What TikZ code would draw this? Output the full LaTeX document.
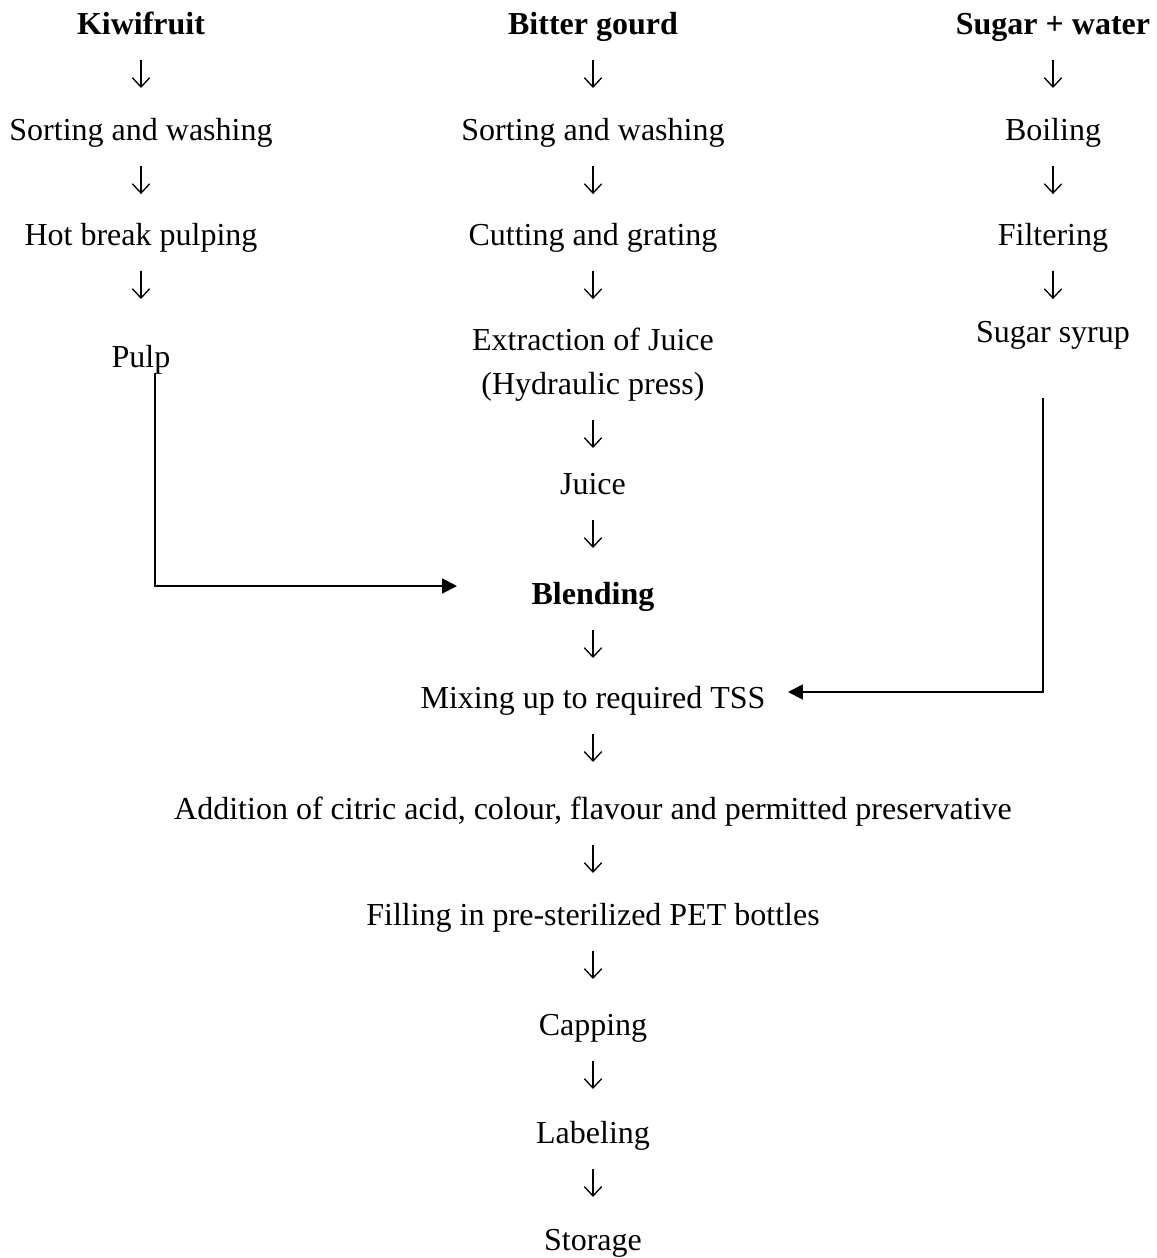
\documentclass[tikz,border=0pt]{standalone}
\usepackage{fontspec}
\setmainfont{Liberation Serif}
\usetikzlibrary{arrows.meta}
\tikzset{
    stage/.style={inner sep=0pt, anchor=base},
    flow/.style={-{Straight Barb[length=3.5pt,width=6.5pt]}, line width=0.5pt, shorten <=9.75pt, shorten >=#1},
    flow/.default=19.5pt,
    feed/.style={-{Triangle[length=5.6pt,width=5.6pt]}, line width=0.75pt}
}
\begin{document}
\begin{tikzpicture}[x=0.375pt, y=-0.375pt, font=\fontsize{12}{14}\selectfont]
    \useasboundingbox (0,0) rectangle (1157,1258);
    % Columna del kiwi
    \node[stage] (kiwi) at (141,34) {\textbf{Kiwifruit}};
    \node[stage] (ksort) at (141,140) {Sorting and washing};
    \node[stage] (hot) at (141,245) {Hot break pulping};
    \node[stage] (pulp) at (141,367) {Pulp};
    % Columna del melón amargo
    \node[stage] (gourd) at (593,34) {\textbf{Bitter gourd}};
    \node[stage] (gsort) at (593,140) {Sorting and washing};
    \node[stage] (cut) at (593,245) {Cutting and grating};
    \node[stage] (extract) at (593,350) {Extraction of Juice};
    \node[stage] (press) at (593,394) {(Hydraulic press)};
    \node[stage] (juice) at (593,494) {Juice};
    \node[stage] (blend) at (593,604) {\textbf{Blending}};
    \node[stage] (mix) at (593,708) {Mixing up to required TSS};
    \node[stage] (additives) at (593,819) {Addition of citric acid, colour, flavour and permitted preservative};
    \node[stage] (fill) at (593,925) {Filling in pre-sterilized PET bottles};
    \node[stage] (cap) at (593,1035) {Capping};
    \node[stage] (label) at (593,1143) {Labeling};
    \node[stage] (store) at (593,1250) {Storage};
    % Columna del jarabe
    \node[stage] (sugar) at (1053,34) {\textbf{Sugar + water}};
    \node[stage] (boil) at (1053,140) {Boiling};
    \node[stage] (filter) at (1053,245) {Filtering};
    \node[stage] (syrup) at (1053,342) {Sugar syrup};
    % Flechas hacia abajo
    \foreach \a/\b/\s in {kiwi/ksort/19.5, ksort/hot/19.1, gourd/gsort/19.5, gsort/cut/19.1, cut/extract/19.1, press/juice/17.25, juice/blend/21, blend/mix/18.75, mix/additives/21.4, additives/fill/19.5, fill/cap/21, cap/label/20.25, label/store/19.9, sugar/boil/19.5, boil/filter/19.1, hot/pulp/25.5, filter/syrup/16.1}
        \draw[flow=\s pt] (\a.base) -- (\b.base);
    % Pulpa hacia la mezcla
    \coordinate (pulpdrop) at (155,373);
    \coordinate (blendin) at (457,586);
    \draw[feed] (pulpdrop) |- (blendin);
    % Jarabe hacia el ajuste de TSS
    \coordinate (syrupdrop) at (1043,398);
    \coordinate (mixin) at (788,692);
    \draw[feed] (syrupdrop) |- (mixin);
\end{tikzpicture}
\end{document}
